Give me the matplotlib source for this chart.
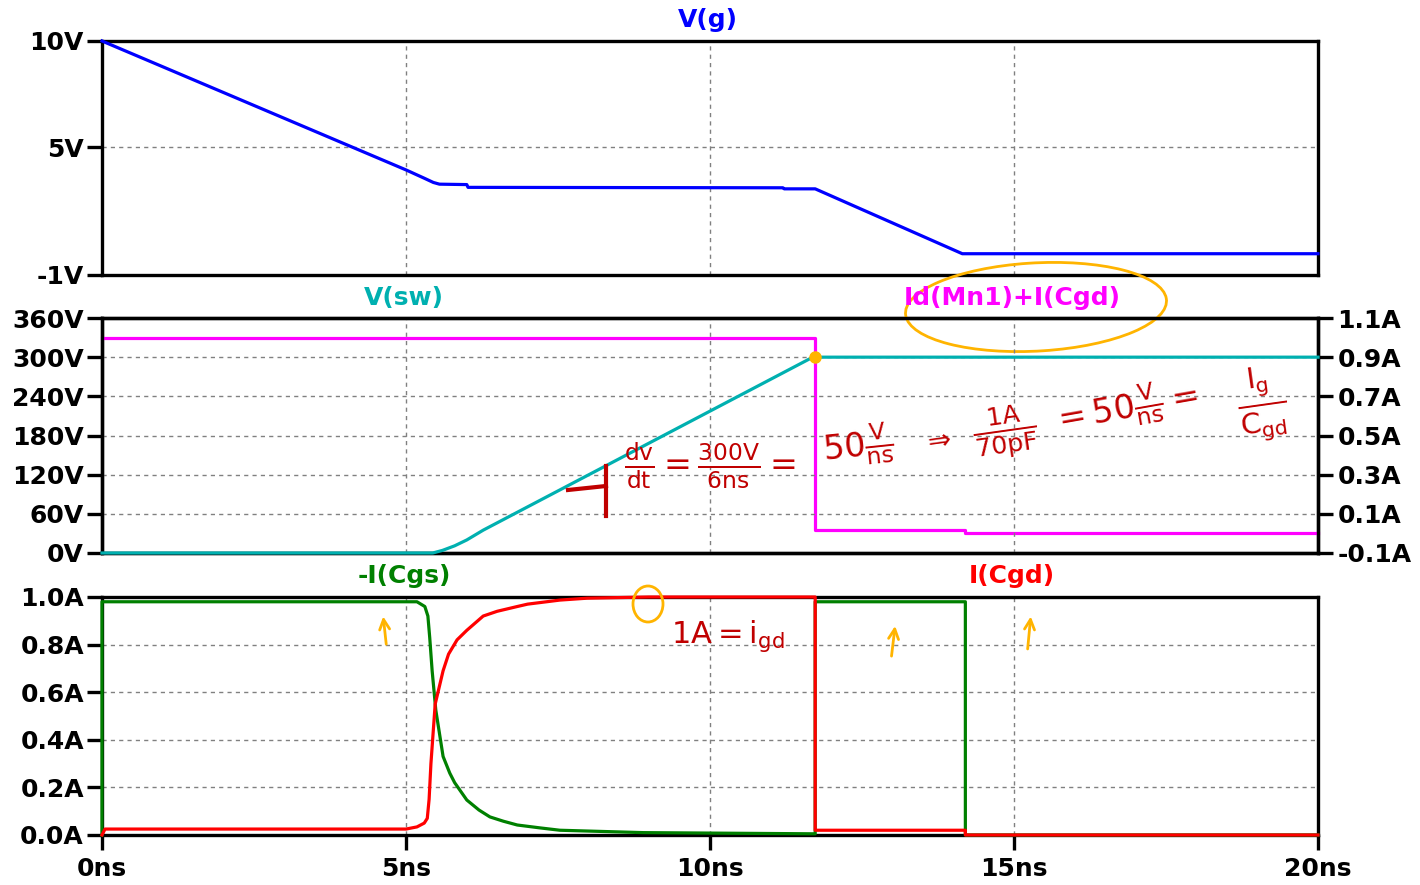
import matplotlib
matplotlib.use("Agg")
import matplotlib.pyplot as plt
from matplotlib.patches import Ellipse
from matplotlib.lines import Line2D

# ---------------- data ----------------
t_vg = [0, 5.0, 5.3, 5.45, 5.55, 6.0, 6.02, 11.2, 11.22, 11.73, 14.15, 20]
v_g = [10, 3.94, 3.55, 3.35, 3.27, 3.25, 3.12, 3.1, 3.05, 3.05, 0.0, 0.0]

t_vsw = [0, 5.44, 5.6, 5.8, 6.0, 6.27, 11.65, 11.72, 20]
v_sw = [0, 0, 4, 11, 20, 35, 298, 300, 300]

t_id = [0, 11.73, 11.73, 14.2, 14.2, 20]
i_d = [1.0, 1.0, 0.02, 0.02, 0.0, 0.0]

t_cgs = [0, 0, 4.95, 5.18, 5.31, 5.36, 5.39, 5.43, 5.49, 5.61, 5.72, 5.8, 6.0, 6.2,
         6.38, 6.6, 6.83, 7.2, 7.53, 8.9, 11.73, 11.73, 14.2, 14.2, 20]
i_cgs = [0, 0.98, 0.98, 0.98, 0.96, 0.92, 0.83, 0.69, 0.525, 0.33, 0.26, 0.22, 0.147,
         0.105, 0.076, 0.058, 0.042, 0.03, 0.02, 0.01, 0.005, 0.98, 0.98, 0.0, 0.0]

t_cgd = [0, 0.05, 5.0, 5.18, 5.3, 5.35, 5.38, 5.41, 5.48, 5.61, 5.7, 5.84, 6.0, 6.27,
         6.5, 6.83, 7.0, 7.53, 7.98, 9.0, 11.73, 11.73, 14.2, 14.2, 20]
i_cgd = [0, 0.025, 0.025, 0.034, 0.05, 0.07, 0.15, 0.3, 0.55, 0.69, 0.76, 0.82,
         0.86, 0.92, 0.94, 0.96, 0.97, 0.987, 0.995, 1.0, 1.0, 0.02, 0.02, 0.0, 0.0]

x_ticks = [0, 5, 10, 15, 20]
x_labels = ["0ns", "5ns", "10ns", "15ns", "20ns"]
vg_ticks = [-1, 5, 10]
vg_labels = ["-1V", "5V", "10V"]
vsw_ticks = [0, 60, 120, 180, 240, 300, 360]
vsw_labels = ["0V", "60V", "120V", "180V", "240V", "300V", "360V"]
id_ticks = [-0.1, 0.1, 0.3, 0.5, 0.7, 0.9, 1.1]
id_labels = ["-0.1A", "0.1A", "0.3A", "0.5A", "0.7A", "0.9A", "1.1A"]
i_ticks = [0.0, 0.2, 0.4, 0.6, 0.8, 1.0]
i_labels = ["0.0A", "0.2A", "0.4A", "0.6A", "0.8A", "1.0A"]

# ---------------- style ----------------
plt.rcParams["font.family"] = ["DejaVu Sans"]
plt.rcParams["font.weight"] = "normal"
plt.rcParams["mathtext.fontset"] = "dejavusans"
plt.rcParams["mathtext.default"] = "regular"

BLUE = "#0000FF"
TEAL = "#00B0B0"
MAG = "#FF00FF"
GREEN = "#008000"
RED = "#FF0000"
DRED = "#C00000"
ORANGE = "#FFB400"
FS = 18
LW = 2.3

W_PX, H_PX = 1420, 885
fig = plt.figure(figsize=(14.2, 8.85), dpi=100)


def fx(px):
    return px / W_PX


def fy(py):
    return 1 - py / H_PX


L = fx(102)
W = fx(1318) - fx(102)
ax1 = fig.add_axes([L, fy(275), W, fy(41) - fy(275)])
ax2 = fig.add_axes([L, fy(553), W, fy(318) - fy(553)])
ax3 = fig.add_axes([L, fy(835), W, fy(597) - fy(835)])


def style(ax):
    for s in ax.spines.values():
        s.set_linewidth(2.4)
        s.set_color("black")
    ax.set_xlim(0, 20)
    ax.set_xticks(x_ticks)
    ax.grid(True, color="#808080", linestyle=(0, (3, 3)), linewidth=1.0)
    ax.tick_params(axis="y", direction="out", length=11, width=2.4, pad=2,
                   labelsize=FS)
    ax.set_axisbelow(True)


for ax in (ax1, ax2, ax3):
    style(ax)

# panel 1
ax1.set_ylim(-1, 10)
ax1.set_yticks(vg_ticks)
ax1.set_yticklabels(vg_labels, fontweight="bold")
ax1.tick_params(axis="x", length=0, labelbottom=False)
ax1.plot(t_vg, v_g, color=BLUE, lw=LW, clip_on=False, zorder=5)

# panel 2
ax2.set_ylim(0, 360)
ax2.set_yticks(vsw_ticks)
ax2.set_yticklabels(vsw_labels, fontweight="bold")
ax2.tick_params(axis="x", length=0, labelbottom=False)
ax2r = ax2.twinx()
ax2r.set_ylim(-0.1, 1.1)
ax2r.set_yticks(id_ticks)
ax2r.set_yticklabels(id_labels, fontweight="bold")
ax2r.tick_params(axis="y", direction="out", length=11, width=2.4, pad=3,
                 labelsize=FS)
for s in ax2r.spines.values():
    s.set_linewidth(2.4)
ax2r.plot(t_id, i_d, color=MAG, lw=LW, clip_on=False, zorder=4)
ax2.set_zorder(ax2r.get_zorder() + 1)
ax2.patch.set_visible(False)
ax2.plot(t_vsw, v_sw, color=TEAL, lw=LW, clip_on=False, zorder=5)
ax2.plot([t_vsw[-2]], [v_sw[-2]], "o", color=ORANGE, ms=8, zorder=6, clip_on=False)

# panel 3
ax3.set_ylim(0, 1.0)
ax3.set_yticks(i_ticks)
ax3.set_yticklabels(i_labels, fontweight="bold")
ax3.set_xticklabels(x_labels, fontweight="bold")
ax3.tick_params(axis="x", direction="out", length=11, width=2.4, pad=5,
                labelsize=FS)
ax3.plot(t_cgs, i_cgs, color=GREEN, lw=LW, clip_on=False, zorder=5)
ax3.plot(t_cgd, i_cgd, color=RED, lw=LW, clip_on=False, zorder=6)

# trace titles
tt = dict(fontsize=FS, ha="center", va="center", fontweight="bold")
fig.text(fx(708), fy(20), "V(g)", color=BLUE, **tt)
fig.text(fx(404), fy(298), "V(sw)", color=TEAL, **tt)
fig.text(fx(1012), fy(298), "Id(Mn1)+I(Cgd)", color=MAG, **tt)
fig.text(fx(404), fy(576), "-I(Cgs)", color=GREEN, **tt)
fig.text(fx(1012), fy(576), "I(Cgd)", color=RED, **tt)

# handwritten-style notes
note = dict(color=DRED, ha="center", va="center", fontweight="normal")
fig.text(fx(710), fy(466), r"$\frac{dv}{dt}=\frac{300V}{6ns}=$", fontsize=24, **note)
fig.text(fx(858), fy(446), r"$50\frac{V}{ns}$", fontsize=24, rotation=6, **note)
fig.text(fx(937), fy(440), r"$\Rightarrow$", fontsize=20, rotation=8, **note)
fig.text(fx(1005), fy(432), r"$\frac{1A}{70pF}$", fontsize=26, rotation=8, **note)
fig.text(fx(1125), fy(408), r"$=50\frac{V}{ns}=$", fontsize=24, rotation=10, **note)
fig.text(fx(1262), fy(404), r"$\frac{I_g}{C_{gd}}$", fontsize=30, rotation=8, **note)
fig.text(fx(728), fy(636), r"$1A=i_{gd}$", fontsize=22, **note)
fig.add_artist(Line2D([fx(568), fx(606)], [fy(490), fy(486)], color=DRED, lw=3))
fig.add_artist(Line2D([fx(606), fx(606)], [fy(466), fy(516)], color=DRED, lw=3))

# orange marks
fig.add_artist(Ellipse((fx(1036), fy(307)), fx(262), 88 / H_PX, angle=6,
                       fill=False, edgecolor=ORANGE, lw=2))
fig.add_artist(Ellipse((fx(648), fy(604)), fx(30), 36 / H_PX,
                       fill=False, edgecolor=ORANGE, lw=2))
arrow = dict(arrowstyle="->", color=ORANGE, lw=2, mutation_scale=18)
ax3.annotate("", xy=(4.62, 0.93), xytext=(4.68, 0.79), arrowprops=arrow)
ax3.annotate("", xy=(13.05, 0.89), xytext=(12.98, 0.74), arrowprops=arrow)
ax3.annotate("", xy=(15.28, 0.93), xytext=(15.22, 0.77), arrowprops=arrow)

fig.savefig("out.png", dpi=100)
